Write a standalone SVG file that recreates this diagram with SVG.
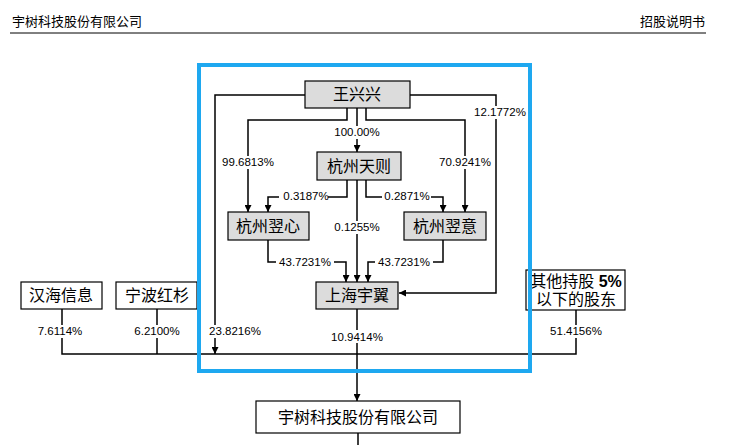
<svg xmlns="http://www.w3.org/2000/svg" width="736" height="445" viewBox="0 0 736 445">
<style>
.n{stroke:#000;stroke-width:1.2}
.g{fill:#dcdcdc}
.w{fill:#fff}
.t{font-family:"Liberation Sans","Noto Sans CJK SC",sans-serif;font-size:16px;text-anchor:middle}
.l{font-family:"Liberation Sans",sans-serif;font-size:11.5px;text-anchor:middle}
.h{font-family:"Noto Sans CJK SC",serif;font-size:13px}
.c path{fill:none;stroke:#000;stroke-width:1.5}
</style>
<defs><marker id="a" viewBox="0 0 10 10" refX="10" refY="5" markerWidth="7" markerHeight="7" markerUnits="userSpaceOnUse" orient="auto"><path d="M0,0L10,5L0,10z"/></marker></defs>
<rect width="736" height="445" fill="#fff"/>
<text class="h" x="12" y="26">宇树科技股份有限公司</text>
<text class="h" x="705" y="26" text-anchor="end">招股说明书</text>
<line x1="10" y1="33" x2="706" y2="33" stroke="#000" stroke-width="1"/>
<g class="c">
<path d="M305,95H215V354" marker-end="url(#a)"/>
<path d="M410,95H496V293H399" marker-end="url(#a)"/>
<path d="M347,108V120H248V212" marker-end="url(#a)"/>
<path d="M366,108V120H465V212" marker-end="url(#a)"/>
<path d="M357,108V152" marker-end="url(#a)"/>
<path d="M347,180V197H268V212" marker-end="url(#a)"/>
<path d="M366,180V197H443V212" marker-end="url(#a)"/>
<path d="M357,180V282" marker-end="url(#a)"/>
<path d="M268,240V262H346V282" marker-end="url(#a)"/>
<path d="M443,240V262H368V282" marker-end="url(#a)"/>
<path d="M357,309V354M62,309V354H576V310M157,309V354"/>
<path d="M357,354V401" marker-end="url(#a)"/>
<path d="M358,433V445"/>
</g>
<g class="l">
<rect x="332" y="126" width="50" height="13" fill="#fff"/><text x="357" y="136">100.00%</text>
<rect x="222" y="156" width="52" height="13" fill="#fff"/><text x="248" y="166">99.6813%</text>
<rect x="439" y="156" width="52" height="13" fill="#fff"/><text x="465" y="166">70.9241%</text>
<rect x="468" y="106" width="58" height="13" fill="#fff"/><text x="500" y="116">12.1772%</text>
<rect x="279" y="190" width="49" height="13" fill="#fff"/><text x="306" y="200">0.3187%</text>
<rect x="382" y="190" width="49" height="13" fill="#fff"/><text x="407" y="200">0.2871%</text>
<rect x="330" y="221" width="54" height="13" fill="#fff"/><text x="357" y="231">0.1255%</text>
<rect x="276" y="255" width="58" height="13" fill="#fff"/><text x="305" y="266">43.7231%</text>
<rect x="375" y="255" width="58" height="13" fill="#fff"/><text x="404" y="266">43.7231%</text>
<rect x="329" y="330" width="56" height="13" fill="#fff"/><text x="357" y="341">10.9414%</text>
<rect x="30" y="325" width="62" height="13" fill="#fff"/><text x="60" y="335">7.6114%</text>
<rect x="127" y="325" width="60" height="13" fill="#fff"/><text x="157" y="335">6.2100%</text>
<rect x="208" y="325" width="58" height="13" fill="#fff"/><text x="235" y="335">23.8216%</text>
<rect x="546" y="325" width="60" height="13" fill="#fff"/><text x="576" y="335">51.4156%</text>
</g>
<g id="wxx"><rect class="n g" x="305" y="81" width="105" height="27"/><text class="t" x="357" y="100">王兴兴</text></g>
<g id="tz"><rect class="n g" x="317" y="152" width="84" height="28"/><text class="t" x="359" y="172">杭州天则</text></g>
<g id="yx"><rect class="n g" x="228" y="212" width="81" height="28"/><text class="t" x="268" y="232">杭州翌心</text></g>
<g id="yy"><rect class="n g" x="404" y="212" width="82" height="28"/><text class="t" x="445" y="232">杭州翌意</text></g>
<g id="shyy"><rect class="n g" x="316" y="282" width="82" height="27"/><text class="t" x="357" y="301">上海宇翼</text></g>
<g id="hh"><rect class="n w" x="21" y="282" width="81" height="27"/><text class="t" x="61" y="301">汉海信息</text></g>
<g id="nb"><rect class="n w" x="116" y="282" width="81" height="27"/><text class="t" x="157" y="301">宁波红杉</text></g>
<g id="qt"><rect class="n w" x="526" y="270" width="99" height="40"/><text class="t" x="576" y="287" font-size="14.5">其他持股 <tspan font-weight="bold">5%</tspan></text><text class="t" x="576" y="305" font-size="14.5">以下的股东</text></g>
<g id="ys"><rect class="n w" x="256" y="401" width="204" height="32"/><text class="t" x="358" y="423">宇树科技股份有限公司</text></g>
<rect x="199" y="65" width="331" height="306" fill="none" stroke="#1ea8f0" stroke-width="4"/>
</svg>
